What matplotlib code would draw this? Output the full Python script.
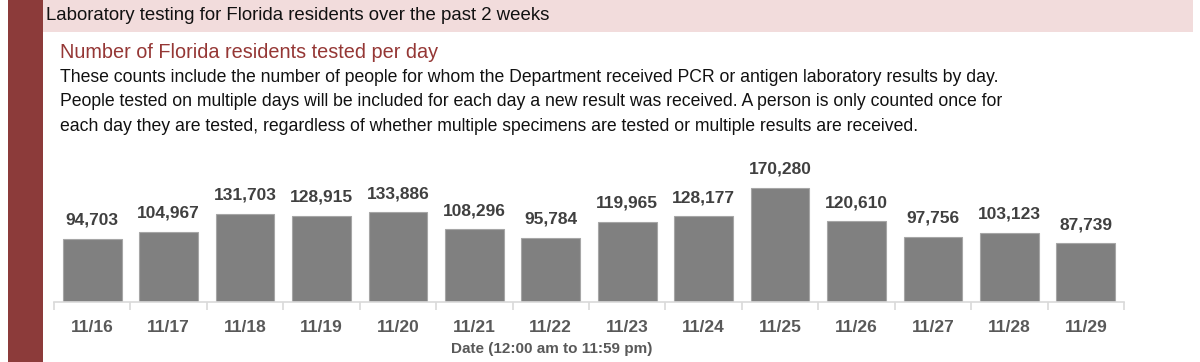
import matplotlib
matplotlib.use("Agg")
import matplotlib.pyplot as plt
import numpy as np

dates = ["11/16", "11/17", "11/18", "11/19", "11/20", "11/21", "11/22",
         "11/23", "11/24", "11/25", "11/26", "11/27", "11/28", "11/29"]
tested = [94703, 104967, 131703, 128915, 133886, 108296, 95784,
          119965, 128177, 170280, 120610, 97756, 103123, 87739]

title = "Laboratory testing for Florida residents over the past 2 weeks"
subtitle = "Number of Florida residents tested per day"
body = [
    "These counts include the number of people for whom the Department received PCR or antigen laboratory results by day.",
    "People tested on multiple days will be included for each day a new result was received. A person is only counted once for",
    "each day they are tested, regardless of whether multiple specimens are tested or multiple results are received.",
]
xlabel = "Date (12:00 am to 11:59 pm)"

FONT = ["Liberation Sans Narrow", "Liberation Sans", "DejaVu Sans"]
plt.rcParams["font.family"] = FONT

W, H = 1200, 362
fig = plt.figure(figsize=(W / 100, H / 100), dpi=100)
fig.patch.set_facecolor("white")

def fx(px):
    return px / W

def fy(py):
    return 1 - py / H

# decorative bands
fig.patches.append(plt.Rectangle((fx(8), 0), fx(43) - fx(8), 1, transform=fig.transFigure,
                                 facecolor="#8C3B3A", edgecolor="none", zorder=0))
fig.patches.append(plt.Rectangle((fx(43), fy(32)), fx(1193) - fx(43), fy(0) - fy(32),
                                 transform=fig.transFigure, facecolor="#F2DCDC",
                                 edgecolor="none", zorder=0))

fig.text(fx(46), fy(16), title, fontsize=13.4, color="#111111", va="center", ha="left")
fig.text(fx(60), fy(52), subtitle, fontsize=14.3, color="#953735", va="center", ha="left")
for i, line in enumerate(body):
    fig.text(fx(60), fy(77 + 24.7 * i), line, fontsize=12.7, color="#111111",
             va="center", ha="left")

# axes: x 54..1124 px, baseline y=302, ylim 0..200000 -> 134 px tall
ax_left, ax_right, ax_bottom = 54, 1124, 302
ymax = 200000
ax_h = ymax * 0.00067
ax = fig.add_axes([fx(ax_left), fy(ax_bottom), fx(ax_right) - fx(ax_left), ax_h / H])
x = np.arange(len(dates))
ax.bar(x, tested, width=0.77, color="#808080", edgecolor="#A6A6A6", linewidth=0.8, zorder=2)
ax.set_xlim(-0.5, len(dates) - 0.5)
ax.set_ylim(0, ymax)
for s in ["top", "right", "left"]:
    ax.spines[s].set_visible(False)
ax.spines["bottom"].set_color("#D9D9D9")
ax.spines["bottom"].set_linewidth(1.2)
ax.set_yticks([])
ax.set_xticks(np.arange(len(dates) + 1) - 0.5, minor=False)
ax.set_xticklabels([])
ax.tick_params(axis="x", which="major", length=6, color="#D9D9D9", width=1.2)
ax.set_xticks(x, minor=True)
ax.set_xticklabels(dates, minor=True)
ax.tick_params(axis="x", which="minor", length=0, pad=13, labelsize=12.5,
               labelcolor="#595959")
for lbl in ax.get_xticklabels(minor=True):
    lbl.set_fontweight("bold")
ax.patch.set_alpha(0)

for xi, v in zip(x, tested):
    ax.annotate(f"{v:,}", (xi, v), xytext=(0, 8), textcoords="offset points",
                ha="center", va="bottom", fontsize=12.5, fontweight="bold", color="#404040")

fig.text(fx(552), fy(349), xlabel, fontsize=11, fontweight="bold", color="#595959",
         ha="center", va="center")

fig.savefig("out.png", dpi=100)
